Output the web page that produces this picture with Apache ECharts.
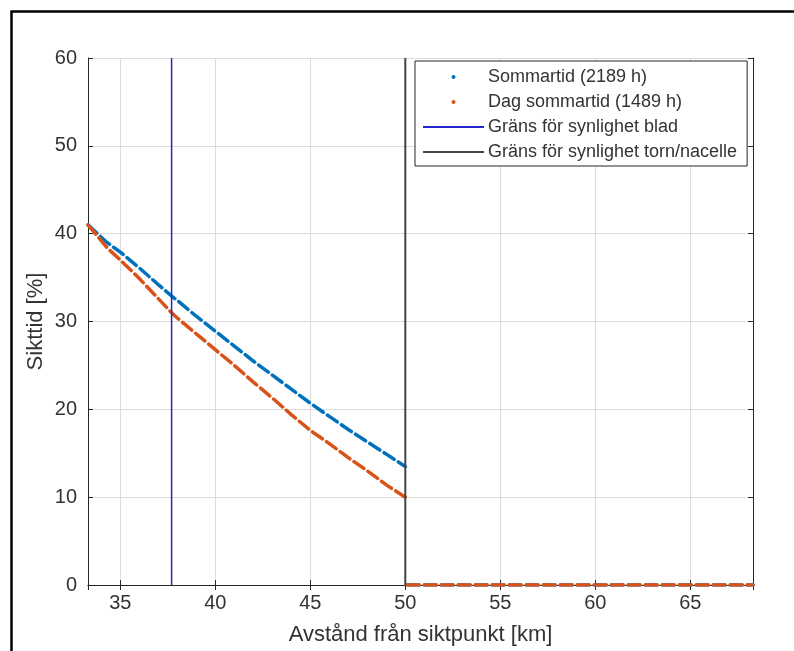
<!DOCTYPE html>
<html>
<head>
<meta charset="utf-8">
<script src="https://cdn.jsdelivr.net/npm/echarts@6/dist/echarts.min.js"></script>
<style>
html,body{margin:0;padding:0;background:#fff;}
#chart{width:794px;height:651px;}
</style>
</head>
<body>
<div id="chart"></div>
<script>
// Data
const distKm = [33.3, 34.3, 35, 36, 37, 37.7, 38, 39, 40, 41, 42, 43, 44, 45, 46, 47, 48, 49, 50];
const sommartid = [41.0, 39.0, 37.9, 36.1, 34.2, 32.9, 32.4, 30.6, 28.9, 27.2, 25.5, 23.9, 22.3, 20.7, 19.2, 17.7, 16.3, 14.9, 13.5];
const dagSommartid = [41.0, 38.4, 37.0, 34.9, 32.6, 31.0, 30.4, 28.6, 26.8, 25.0, 23.1, 21.3, 19.4, 17.6, 16.1, 14.5, 13.0, 11.4, 10.0];
const zeroDistKm = [50.1, 68.3];
const zeroValues = [0, 0];
const bladLimitKm = 37.7;
const towerLimitKm = 50;
const yRange = [0, 60];
const xRange = [33.3, 68.3];
const seriesNames = ['Sommartid (2189 h)', 'Dag sommartid (1489 h)', 'Gräns för synlighet blad', 'Gräns för synlighet torn/nacelle'];

const pairs = (xs, ys) => xs.map((x, i) => [x, ys[i]]);
const FONT = '"Liberation Sans", Arial, sans-serif';
const BLUE = '#0072BD', ORANGE = '#D95319';

const dashStyle = (c) => ({ color: c, width: 3.5, type: [12, 5], cap: 'round' });

const chart = echarts.init(document.getElementById('chart'), null, { renderer: 'canvas' });
const axisCommon = {
  axisLine: { show: true, lineStyle: { color: '#262626', width: 1 } },
  axisTick: { show: true, inside: true, length: 5, lineStyle: { color: '#262626' } },
};
chart.setOption({
  animation: false,
  backgroundColor: '#fff',
  textStyle: { fontFamily: FONT },
  graphic: [{
    type: 'rect', left: 9, top: 9, z: 100, silent: true,
    shape: { x: 0, y: 0, width: 800, height: 700 },
    style: { fill: 'none', stroke: '#000', lineWidth: 2.5 }
  }],
  grid: { left: 88, top: 58, right: 41, bottom: 66, containLabel: false },
  legend: {
    orient: 'vertical', left: 415, top: 61,
    backgroundColor: '#fff', borderColor: '#262626', borderWidth: 1, borderRadius: 0,
    padding: [6, 10, 4, 7], itemGap: 5, itemWidth: 61, itemHeight: 4,
    textStyle: { fontFamily: FONT, fontSize: 18, lineHeight: 20, color: '#333', padding: [0, 0, 0, -1] },
    data: [
      { name: seriesNames[0], icon: 'circle' },
      { name: seriesNames[1], icon: 'circle' },
      { name: seriesNames[2], itemStyle: { opacity: 0 } },
      { name: seriesNames[3], itemStyle: { opacity: 0 } }
    ]
  },
  xAxis: [{
    type: 'value', min: xRange[0], max: xRange[1], minInterval: 5, maxInterval: 5,
    ...axisCommon,
    axisLabel: { showMinLabel: false, showMaxLabel: false, fontSize: 20, color: '#333', margin: 8, fontFamily: FONT },
    splitLine: { show: true, lineStyle: { color: '#dcdcdc', width: 1 } },
    name: 'Avstånd från siktpunkt [km]', nameLocation: 'middle', nameGap: 39,
    nameTextStyle: { fontSize: 22, color: '#333', fontFamily: FONT }
  }, {
    type: 'value', position: 'top', min: xRange[0], max: xRange[1], minInterval: 5, maxInterval: 5,
    ...axisCommon, axisLabel: { show: false }, splitLine: { show: false }
  }],
  yAxis: [{
    type: 'value', min: yRange[0], max: yRange[1], interval: 10,
    ...axisCommon,
    axisLabel: { fontSize: 20, color: '#333', margin: 11, fontFamily: FONT },
    splitLine: { show: true, lineStyle: { color: '#dcdcdc', width: 1 } },
    name: 'Sikttid [%]', nameLocation: 'middle', nameGap: 41, nameMoveOverlap: false,
    nameTextStyle: { fontSize: 22, color: '#333', fontFamily: FONT }
  }, {
    type: 'value', position: 'right', min: yRange[0], max: yRange[1], interval: 10,
    ...axisCommon, axisLabel: { show: false }, splitLine: { show: false }
  }],
  series: [
    {
      name: seriesNames[0], type: 'line', showSymbol: false, symbol: 'none',
      itemStyle: { color: BLUE }, lineStyle: dashStyle(BLUE),
      data: pairs(distKm, sommartid), z: 3
    },
    {
      name: seriesNames[0], type: 'line', showSymbol: false, symbol: 'none',
      itemStyle: { color: BLUE }, lineStyle: dashStyle(BLUE),
      data: pairs(zeroDistKm, zeroValues), z: 3
    },
    {
      name: seriesNames[1], type: 'line', showSymbol: false, symbol: 'none',
      itemStyle: { color: ORANGE }, lineStyle: dashStyle(ORANGE),
      data: pairs(distKm, dagSommartid), z: 4
    },
    {
      name: seriesNames[1], type: 'line', showSymbol: false, symbol: 'none',
      itemStyle: { color: ORANGE }, lineStyle: dashStyle(ORANGE),
      data: pairs(zeroDistKm, zeroValues), z: 4
    },
    {
      name: seriesNames[2], type: 'line', showSymbol: false, symbol: 'none',
      itemStyle: { color: '#2424cc' }, lineStyle: { color: '#2424cc', width: 1.5 },
      data: [[bladLimitKm, yRange[0]], [bladLimitKm, yRange[1]]], z: 5
    },
    {
      name: seriesNames[3], type: 'line', showSymbol: false, symbol: 'none',
      itemStyle: { color: '#111' }, lineStyle: { color: '#444', width: 2 },
      data: [[towerLimitKm, yRange[0]], [towerLimitKm, yRange[1]]], z: 5
    }
  ]
});
</script>
</body>
</html>
